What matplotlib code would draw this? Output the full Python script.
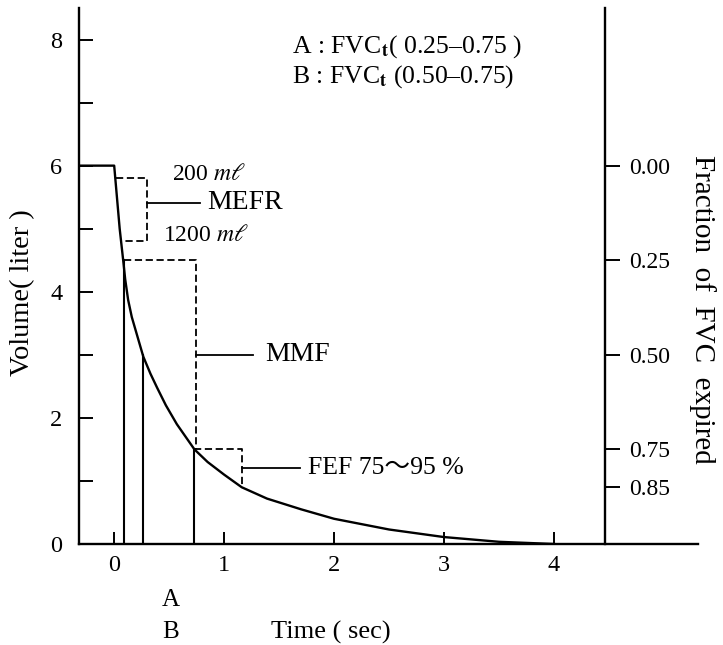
import matplotlib
matplotlib.use("Agg")
import matplotlib.pyplot as plt

plt.rcParams["font.family"] = ["Liberation Serif", "Noto Sans CJK JP", "DejaVu Sans"]
plt.rcParams["mathtext.fontset"] = "stix"

# Forced expiratory curve (volume in lung, litres).
time_s = [-0.32, 0.0, 0.02, 0.05, 0.085, 0.1, 0.127, 0.16, 0.2, 0.265, 0.33, 0.39,
          0.47, 0.57, 0.73, 0.85, 1.0, 1.16, 1.39, 1.7, 2.0, 2.5, 3.0, 3.5, 4.0]
volume_l = [6.0, 6.0, 5.6, 5.0, 4.45, 4.2, 3.87, 3.6, 3.36, 2.97, 2.7, 2.48,
            2.2, 1.9, 1.5, 1.3, 1.1, 0.9, 0.72, 0.55, 0.40, 0.23, 0.11, 0.035, 0.0]

FVC = 6.0
frac_ticks = [0.00, 0.25, 0.50, 0.75, 0.85]
frac_labels = ["0.00", "0.25", "0.50", "0.75", "0.85"]

# times at which 25 %, 50 %, 75 % of FVC has been expired
frac_marks = [0.25, 0.50, 0.75]
frac_times = [0.085, 0.265, 0.73]

# MEFR: 200 ml -> 1200 ml
mefr_vol = [5.8, 4.8]
mefr_t = [0.015, 0.06]
mefr_right = 0.30
# MMF: 25 % -> 75 %
mmf_right = 0.74
# FEF 75-85 %
fef_vol = [1.5, 0.9]
fef_t = [0.73, 1.16]

x_ticks = [0, 1, 2, 3, 4]
y_major = [0, 2, 4, 6, 8]
y_minor = [1, 3, 5, 7]

fig = plt.figure(figsize=(7.23, 6.45), dpi=100)
ax = fig.add_axes([79 / 723, 101 / 645, 619 / 723, 536 / 645])
ax.set_xlim(-0.32, 5.31)
ax.set_ylim(0, 8.5)

ax.plot(time_s, volume_l, color="black", lw=1.7, zorder=5)

# vertical lines at 25/50/75 %
for f, t in zip(frac_marks, frac_times):
    ax.plot([t, t], [0, FVC * (1 - f)], color="black", lw=1.5)

dash = (0, (4, 2))
# MEFR box
ax.plot([mefr_t[0], mefr_right, mefr_right, mefr_t[1]],
        [mefr_vol[0], mefr_vol[0], mefr_vol[1], mefr_vol[1]],
        color="black", lw=1.3, ls=dash)
ax.plot([mefr_right, 0.78], [5.41, 5.41], color="black", lw=1.3)
# MMF box
v25, v75 = FVC * 0.75, FVC * 0.25
ax.plot([frac_times[0], mmf_right, mmf_right], [v25, v25, v75],
        color="black", lw=1.3, ls=dash)
ax.plot([mmf_right, 1.26], [3.0, 3.0], color="black", lw=1.3)
# FEF box
ax.plot([fef_t[0], fef_t[1], fef_t[1]], [fef_vol[0], fef_vol[0], fef_vol[1]],
        color="black", lw=1.3, ls=dash)
ax.plot([fef_t[1], 1.69], [1.2, 1.2], color="black", lw=1.3)

# annotations
ax.text(0.53, 5.86, r"200 $m\ell$", fontsize=17, va="center", ha="left")
ax.text(0.44, 4.9, r"1200 $m\ell$", fontsize=17, va="center", ha="left")
ax.text(0.85, 5.41, "MEFR", fontsize=20, va="center", ha="left")
ax.text(1.37, 3.0, "MMF", fontsize=20, va="center", ha="left")
ax.text(1.76, 1.2, "FEF 75～95 %", fontsize=18.5, va="center", ha="left")
ax.text(1.62, 7.89, r"A : FVC$_{\mathbf{t}}$( 0.25–0.75 )", fontsize=18.5,
        va="center", ha="left")
ax.text(1.62, 7.41, r"B : FVC$_{\mathbf{t}}$ (0.50–0.75)", fontsize=18.5,
        va="center", ha="left")
ax.text(0.51, -0.89, "A", fontsize=18, ha="center", va="center", clip_on=False)
ax.text(0.51, -1.40, "B", fontsize=18, ha="center", va="center", clip_on=False)
ax.text(1.97, -1.41, "Time ( sec)", fontsize=19, ha="center", va="center",
        clip_on=False)
fig.text(23 / 723, 1 - 293 / 645, "Volume( liter )", fontsize=20.5, rotation=90,
         ha="center", va="center")
fig.text(702 / 723, 1 - 309 / 645, "Fraction  of  FVC  expired", fontsize=21,
         rotation=-90, ha="center", va="center")

# left / bottom axes
for s in ("top", "right"):
    ax.spines[s].set_visible(False)
for s in ("left", "bottom"):
    ax.spines[s].set_linewidth(1.7)
ax.set_xticks(x_ticks)
ax.set_yticks(y_major)
ax.set_yticks(y_minor, minor=True)
ax.tick_params(axis="x", direction="in", length=9, width=1.4, pad=8, labelsize=17.5)
ax.tick_params(axis="y", which="both", direction="in", length=10, width=1.4,
               pad=12, labelsize=17.5)

# right axis: fraction of FVC expired
ax2 = ax.twinx()
ax2.set_ylim(ax.get_ylim())
for s in ("top", "left", "bottom"):
    ax2.spines[s].set_visible(False)
ax2.spines["right"].set_position(("data", 4.46))
ax2.spines["right"].set_linewidth(1.7)
ax2.set_yticks([FVC * (1 - f) for f in frac_ticks])
ax2.set_yticklabels(frac_labels)
ax2.tick_params(axis="y", direction="out", length=11, width=1.4, pad=7, labelsize=17)

fig.savefig("out.png", dpi=100)
